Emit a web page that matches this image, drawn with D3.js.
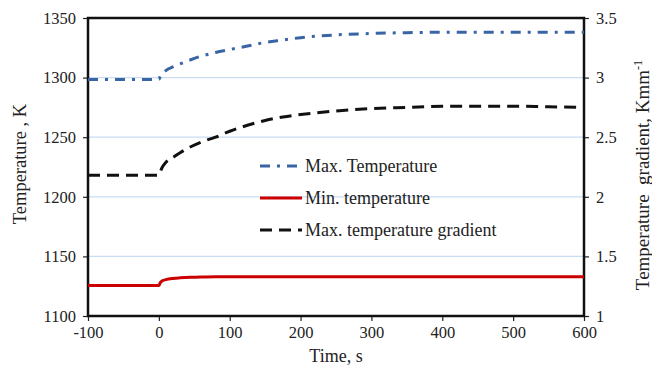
<!DOCTYPE html>
<html>
<head>
<meta charset="utf-8">
<script src="https://cdn.jsdelivr.net/npm/d3@7"></script>
<style>
  body { margin: 0; background: #fff; }
  text { font-family: "Liberation Serif", "Times New Roman", serif; fill: #222; }
</style>
</head>
<body>
<div id="chart"></div>
<script>
// values
let time_s = [-100, -50, 0, 2, 5, 10, 20, 30, 45, 60, 80, 100, 125, 150, 175, 200, 250, 300, 350, 400, 450, 500, 550, 600];
let max_temp = [1298.5, 1298.5, 1298.5, 1301, 1303.5, 1306, 1309, 1311.5, 1315, 1318, 1321, 1323.5, 1326.5, 1329.5, 1331.5, 1333.5, 1335.8, 1337, 1337.7, 1338, 1338, 1338, 1338, 1338];
let min_temp = [1125.5, 1125.5, 1125.5, 1128, 1129.5, 1130.5, 1131.5, 1132, 1132.5, 1132.8, 1133, 1133, 1133, 1133, 1133, 1133, 1133, 1133, 1133, 1133, 1133, 1133, 1133, 1133];
let max_grad = [2.18, 2.18, 2.18, 2.21, 2.25, 2.29, 2.33, 2.37, 2.42, 2.46, 2.50, 2.55, 2.60, 2.64, 2.67, 2.69, 2.72, 2.74, 2.75, 2.76, 2.76, 2.76, 2.755, 2.75];
let x_ticks = [-100, 0, 100, 200, 300, 400, 500, 600];
let y_ticks = [1100, 1150, 1200, 1250, 1300, 1350];
let y2_ticks = [1, 1.5, 2, 2.5, 3, 3.5];
let legend_names = ["Max. Temperature", "Min. temperature", "Max. temperature gradient"];

let svg_width = 652, svg_height = 373;
let plot = { left: 88, right: 584, top: 18, bottom: 316 };

let svg = d3.select("#chart").append("svg")
  .attr("width", svg_width)
  .attr("height", svg_height);

let x_scale = d3.scaleLinear().domain([-100, 600]).range([plot.left, plot.right]);
let y_scale = d3.scaleLinear().domain([1100, 1350]).range([plot.bottom, plot.top]);
let y2_scale = d3.scaleLinear().domain([1, 3.5]).range([plot.bottom, plot.top]);

// gridlines
svg.append("g")
  .selectAll("line")
  .data(y_ticks.slice(1, -1))
  .join("line")
  .attr("x1", plot.left).attr("x2", plot.right)
  .attr("y1", d => y_scale(d)).attr("y2", d => y_scale(d))
  .attr("stroke", "#c9dcf2").attr("stroke-width", 1.2);

// axes (plain hyphen minus, no thousands comma)
let plain = d => String(d);
let x_axis = svg.append("g")
  .attr("transform", `translate(0,${plot.bottom})`)
  .call(d3.axisBottom(x_scale).tickValues(x_ticks).tickFormat(plain).tickSize(5).tickSizeOuter(0));
let y_axis = svg.append("g")
  .attr("transform", `translate(${plot.left},0)`)
  .call(d3.axisLeft(y_scale).tickValues(y_ticks).tickFormat(plain).tickSize(5).tickSizeOuter(0));
let y2_axis = svg.append("g")
  .attr("transform", `translate(${plot.right},0)`)
  .call(d3.axisRight(y2_scale).tickValues(y2_ticks).tickFormat(plain).tickSize(5).tickSizeOuter(0));

[x_axis, y_axis, y2_axis].forEach(function (a) {
  a.select(".domain").remove();
  a.selectAll(".tick line").attr("stroke", "#222").attr("stroke-width", 1.2);
  a.selectAll(".tick text")
    .style("font-family", "'Liberation Serif', 'Times New Roman', serif")
    .style("font-size", "16.5px").attr("fill", "#222");
});
x_axis.selectAll(".tick text").attr("dy", "0.9em").attr("y", 7);
y_axis.selectAll(".tick text").attr("x", -12);
y2_axis.selectAll(".tick text").attr("x", 12);

// plot box
svg.append("rect")
  .attr("x", plot.left).attr("y", plot.top)
  .attr("width", plot.right - plot.left).attr("height", plot.bottom - plot.top)
  .attr("fill", "none").attr("stroke", "#111").attr("stroke-width", 2.5);

// series
let line_left = d3.line()
  .x((d, i) => x_scale(time_s[i]))
  .y((d) => y_scale(d))
  .curve(d3.curveMonotoneX);
let line_right = d3.line()
  .x((d, i) => x_scale(time_s[i]))
  .y((d) => y2_scale(d))
  .curve(d3.curveMonotoneX);

let styles = [
  { color: "#3a65a5", dash: "10,7,3,7" },
  { color: "#cc0000", dash: null },
  { color: "#111111", dash: "12,7" }
];

svg.append("path").attr("d", line_right(max_grad))
  .attr("fill", "none").attr("stroke", styles[2].color)
  .attr("stroke-width", 3).attr("stroke-dasharray", styles[2].dash);
svg.append("path").attr("d", line_left(min_temp))
  .attr("fill", "none").attr("stroke", styles[1].color).attr("stroke-width", 3);
svg.append("path").attr("d", line_left(max_temp))
  .attr("fill", "none").attr("stroke", styles[0].color)
  .attr("stroke-width", 3).attr("stroke-dasharray", styles[0].dash);

// legend
let legend = svg.append("g").attr("transform", "translate(260,166)");
legend_names.forEach(function (name, i) {
  let row = legend.append("g").attr("transform", `translate(0,${i * 32})`);
  row.append("line")
    .attr("x1", 0).attr("x2", 42).attr("y1", 0).attr("y2", 0)
    .attr("stroke", styles[i].color).attr("stroke-width", 3)
    .attr("stroke-dasharray", styles[i].dash);
  row.append("text")
    .attr("x", 45).attr("y", 0).attr("dy", "0.35em")
    .style("font-size", "18px")
    .text(name);
});

// axis titles
svg.append("text")
  .attr("x", (plot.left + plot.right) / 2).attr("y", 362)
  .attr("text-anchor", "middle")
  .style("font-size", "18px")
  .text("Time, s");
svg.append("text")
  .attr("transform", "translate(26,164) rotate(-90)")
  .attr("text-anchor", "middle")
  .style("font-size", "18.5px")
  .text("Temperature , K");
let t2 = svg.append("text")
  .attr("transform", "translate(649,175) rotate(-90)")
  .attr("text-anchor", "middle")
  .style("font-size", "19px")
  .attr("xml:space", "preserve")
  .style("white-space", "pre");
t2.append("tspan").text("Temperature  gradient, Kmm");
t2.append("tspan").attr("dy", "-0.55em").style("font-size", "12px").text("-1");
</script>
</body>
</html>
